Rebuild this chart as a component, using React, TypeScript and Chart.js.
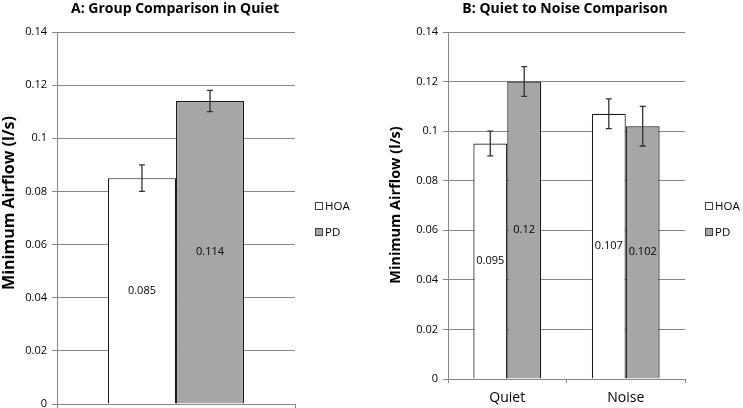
import React, { useEffect, useRef } from 'react';
import { Chart, registerables } from 'chart.js';

Chart.register(...registerables);

// ---------- data ----------
const seriesNames = ['HOA', 'PD'];
const seriesColors = ['#ffffff', '#a6a6a6'];

const panelATitle = 'A: Group Comparison in Quiet';
const panelBTitle = 'B: Quiet to Noise Comparison';
const yAxisTitle = 'Minimum Airflow (l/s)';

const yTickValues = [0, 0.02, 0.04, 0.06, 0.08, 0.1, 0.12, 0.14];
const yTickLabels = ['0', '0.02', '0.04', '0.06', '0.08', '0.1', '0.12', '0.14'];

const aCategories = [''];
const aHOA = [0.085];
const aPD = [0.114];
const aHOAErr = [0.005];
const aPDErr = [0.004];

const bCategories = ['Quiet', 'Noise'];
const bHOA = [0.095, 0.107];
const bPD = [0.12, 0.102];
const bHOAErr = [0.005, 0.006];
const bPDErr = [0.006, 0.008];

const FONT = "'Open Sans', 'DejaVu Sans', sans-serif";
const gridColor = '#888888';

// ---------- overlay plugin: error bars, value labels, legend, titles ----------
const overlayPlugin = {
  id: 'overlay',
  afterDatasetsDraw(chart: any, _args: any, opts: any) {
    const ctx = chart.ctx;
    const yScale = chart.scales.y;
    chart.data.datasets.forEach((ds: any, di: number) => {
      const meta = chart.getDatasetMeta(di);
      meta.data.forEach((el: any, i: number) => {
        const v = ds.data[i];
        const e = ds.errors ? ds.errors[i] : 0;
        // value label
        ctx.save();
        ctx.fillStyle = '#000';
        ctx.font = `${opts.labelSize}px ${FONT}`;
        ctx.textAlign = 'center';
        ctx.textBaseline = 'middle';
        ctx.fillText(String(v), el.x, (el.y + el.base) / 2);
        ctx.restore();
        // error bar
        if (e) {
          const yt = yScale.getPixelForValue(v + e);
          const yb = yScale.getPixelForValue(v - e);
          ctx.save();
          ctx.strokeStyle = '#333';
          ctx.lineWidth = 1.3;
          ctx.beginPath();
          ctx.moveTo(el.x, yt);
          ctx.lineTo(el.x, yb);
          ctx.moveTo(el.x - 3, yt);
          ctx.lineTo(el.x + 3, yt);
          ctx.moveTo(el.x - 3, yb);
          ctx.lineTo(el.x + 3, yb);
          ctx.stroke();
          ctx.restore();
        }
      });
    });
  },
  afterDraw(chart: any, _args: any, opts: any) {
    const ctx = chart.ctx;
    // title
    ctx.save();
    ctx.fillStyle = '#000';
    ctx.font = `bold ${opts.titleSize}px ${FONT}`;
    ctx.textAlign = 'center';
    ctx.textBaseline = 'middle';
    ctx.fillText(opts.title, opts.titleX, opts.titleY);
    ctx.restore();
    // y axis title
    ctx.save();
    ctx.translate(opts.yTitleX, opts.yTitleY);
    ctx.rotate(-Math.PI / 2);
    ctx.fillStyle = '#000';
    ctx.font = `bold ${opts.yTitleSize}px ${FONT}`;
    ctx.textAlign = 'center';
    ctx.textBaseline = 'middle';
    ctx.fillText(yAxisTitle, 0, 0);
    ctx.restore();
    // legend
    chart.data.datasets.forEach((ds: any, di: number) => {
      const cy = opts.legendY + di * opts.legendGap;
      ctx.save();
      ctx.fillStyle = ds.backgroundColor;
      ctx.strokeStyle = '#404040';
      ctx.lineWidth = 1;
      ctx.fillRect(opts.legendX, cy - 4, 8, 8);
      ctx.strokeRect(opts.legendX + 0.5, cy - 3.5, 7, 7);
      ctx.fillStyle = '#000';
      ctx.font = `${opts.legendSize}px ${FONT}`;
      ctx.textAlign = 'left';
      ctx.textBaseline = 'middle';
      ctx.fillText(ds.label, opts.legendX + 10, cy + 0.5);
      ctx.restore();
    });
  },
};

function makeConfig(
  categories: string[],
  hoa: number[],
  pd: number[],
  hoaErr: number[],
  pdErr: number[],
  p: any
) {
  const mk = (label: string, data: number[], errors: number[], color: string) => ({
    label,
    data,
    errors,
    backgroundColor: color,
    borderColor: '#1a1a1a',
    borderWidth: 1.2,
    categoryPercentage: 0.572,
    barPercentage: 1,
  });
  return {
    type: 'bar',
    data: {
      labels: categories,
      datasets: [
        mk(seriesNames[0], hoa, hoaErr, seriesColors[0]),
        mk(seriesNames[1], pd, pdErr, seriesColors[1]),
      ],
    },
    plugins: [overlayPlugin],
    options: {
      responsive: false,
      animation: false,
      events: [],
      layout: { padding: { top: p.top, right: p.right, left: 0, bottom: 0 } },
      plugins: {
        legend: { display: false },
        title: { display: false },
        tooltip: { enabled: false },
        overlay: p.overlay,
      },
      scales: {
        x: {
          grid: {
            offset: true,
            drawOnChartArea: false,
            drawTicks: true,
            tickLength: 4,
            color: gridColor,
          },
          border: { color: gridColor, width: 1 },
          ticks: {
            display: p.showX,
            color: '#000',
            padding: 7,
            font: { family: FONT, size: 14 },
          },
          afterFit: (s: any) => {
            s.height = p.xHeight;
            s.paddingLeft = 0;
            s.paddingRight = 0;
          },
        },
        y: {
          min: 0,
          max: 0.14,
          afterBuildTicks: (s: any) => {
            s.ticks = yTickValues.map((v) => ({ value: v }));
          },
          ticks: {
            color: '#000',
            padding: 5,
            font: { family: FONT, size: 11 },
            callback: (_v: any, i: number) => yTickLabels[i],
          },
          grid: { color: gridColor, tickLength: 5, lineWidth: 1 },
          border: { color: gridColor, width: 1 },
          afterFit: (s: any) => {
            s.width = p.yWidth;
            s.paddingTop = 0;
            s.paddingBottom = 0;
          },
        },
      },
    },
  };
}

function Panel({ config, left, width }: { config: any; left: number; width: number }) {
  const ref = useRef<HTMLCanvasElement | null>(null);
  useEffect(() => {
    if (!ref.current) return;
    const chart = new Chart(ref.current, config);
    return () => chart.destroy();
  }, [config]);
  return (
    <canvas
      ref={ref}
      width={width}
      height={408}
      style={{ position: 'absolute', left, top: 0, width, height: 408, display: 'block' }}
    />
  );
}

const configA = makeConfig(aCategories, aHOA, aPD, aHOAErr, aPDErr, {
  top: 32,
  right: 372 - 295,
  yWidth: 57,
  xHeight: 4,
  showX: false,
  overlay: {
    title: panelATitle,
    titleX: 175,
    titleY: 9,
    titleSize: 14,
    yTitleX: 9,
    yTitleY: 203,
    yTitleSize: 16,
    legendX: 315,
    legendY: 206,
    legendGap: 26,
    legendSize: 11.5,
    labelSize: 11,
  },
});

const configB = makeConfig(bCategories, bHOA, bPD, bHOAErr, bPDErr, {
  top: 32,
  right: 371 - 313,
  yWidth: 76,
  xHeight: 29,
  showX: true,
  overlay: {
    title: panelBTitle,
    titleX: 193,
    titleY: 9,
    titleSize: 14,
    yTitleX: 24,
    yTitleY: 205,
    yTitleSize: 14.5,
    legendX: 333,
    legendY: 206,
    legendGap: 26,
    legendSize: 11.5,
    labelSize: 11,
  },
});

export default function App() {
  return (
    <div style={{ position: 'fixed', left: 0, top: 0, width: 743, height: 408, background: '#fff' }}>
      <Panel config={configA} left={0} width={372} />
      <Panel config={configB} left={372} width={371} />
    </div>
  );
}
